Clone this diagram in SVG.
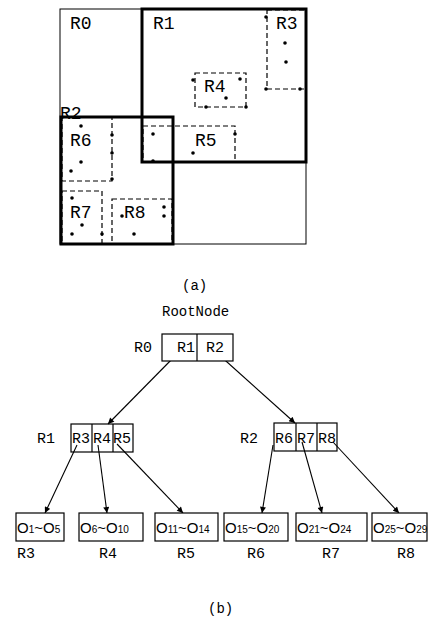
<svg xmlns="http://www.w3.org/2000/svg" width="429" height="626" viewBox="0 0 429 626">
<style>
.bg{fill:#fff}
.thin{fill:none;stroke:#000;stroke-width:1}
.thick{fill:none;stroke:#000;stroke-width:3}
.dash{fill:none;stroke:#000;stroke-width:1.2;stroke-dasharray:5 3}
.dot{fill:#000}
.la{font-family:"Liberation Mono",monospace;font-size:18px;fill:#000}
.lt{font-family:"Liberation Mono",monospace;font-size:15px;fill:#000}
.cap{font-family:"Liberation Mono",monospace;font-size:14px;fill:#000}
.box{fill:#fff;stroke:#000;stroke-width:1.2}
.div{stroke:#000;stroke-width:1.2}
.leaf{font-family:"Liberation Sans",Arial,sans-serif;font-size:15px;fill:#000}
.sub{font-size:10px}
.edge{stroke:#000;stroke-width:1.1;fill:none;marker-end:url(#arr)}
</style>
<defs>
<marker id="arr" viewBox="0 0 10 10" refX="10" refY="5" markerWidth="8" markerHeight="6" markerUnits="userSpaceOnUse" orient="auto">
<path d="M0,0 L10,5 L0,10 z" fill="#000"/>
</marker>
</defs>
<rect class="bg" x="0" y="0" width="429" height="626"/>

<g id="partA">
<g id="R0"><rect class="thin" x="60" y="9" width="246" height="235"/><text class="la" x="70" y="29">R0</text></g>
<g id="R3"><rect class="dash" x="267" y="10" width="39" height="79"/><text class="la" x="276" y="29">R3</text>
<circle class="dot" cx="266" cy="17" r="1.8"/><circle class="dot" cx="285" cy="43" r="1.8"/><circle class="dot" cx="286" cy="62" r="1.8"/><circle class="dot" cx="266" cy="89" r="1.8"/><circle class="dot" cx="300" cy="89" r="1.8"/></g>
<g id="R4"><rect class="dash" x="195" y="73" width="51" height="34"/><text class="la" x="204" y="92">R4</text>
<circle class="dot" cx="193" cy="80" r="1.8"/><circle class="dot" cx="240" cy="79" r="1.8"/><circle class="dot" cx="226" cy="98" r="1.8"/><circle class="dot" cx="206" cy="107" r="1.8"/><circle class="dot" cx="246" cy="107" r="1.8"/></g>
<g id="R5"><rect class="dash" x="143" y="126" width="92" height="36"/><text class="la" x="195" y="146">R5</text>
<circle class="dot" cx="153" cy="134" r="1.8"/><circle class="dot" cx="235" cy="134" r="1.8"/><circle class="dot" cx="193" cy="153" r="1.8"/><circle class="dot" cx="153" cy="161" r="1.8"/></g>
<g id="R6"><rect class="dash" x="62" y="117" width="50" height="64"/><text class="la" x="70" y="146">R6</text>
<circle class="dot" cx="81" cy="126" r="1.8"/><circle class="dot" cx="112" cy="135" r="1.8"/><circle class="dot" cx="112" cy="153" r="1.8"/><circle class="dot" cx="81" cy="162" r="1.8"/><circle class="dot" cx="71" cy="171" r="1.8"/><circle class="dot" cx="112" cy="179" r="1.8"/></g>
<g id="R7"><rect class="dash" x="62" y="191" width="40" height="53"/><text class="la" x="70" y="218">R7</text>
<circle class="dot" cx="72" cy="198" r="1.8"/><circle class="dot" cx="82" cy="225" r="1.8"/><circle class="dot" cx="72" cy="234" r="1.8"/><circle class="dot" cx="102" cy="234" r="1.8"/></g>
<g id="R8"><rect class="dash" x="112" y="199" width="60" height="45"/><text class="la" x="124" y="218">R8</text>
<circle class="dot" cx="122" cy="216" r="1.8"/><circle class="dot" cx="164" cy="207" r="1.8"/><circle class="dot" cx="164" cy="216" r="1.8"/><circle class="dot" cx="134" cy="234" r="1.8"/></g>
<g id="R1"><rect class="thick" x="142" y="9" width="164" height="153"/><text class="la" x="153" y="29">R1</text></g>
<g id="R2"><text class="la" x="60" y="119">R2</text><rect class="thick" x="61" y="117" width="112" height="127"/></g>
<text class="cap" x="182" y="290">(a)</text>
</g>

<g id="connectors">
<line class="edge" x1="177" y1="354" x2="108" y2="424"/>
<line class="edge" x1="217" y1="353" x2="295" y2="423"/>
<line class="edge" x1="77" y1="445" x2="45" y2="513"/>
<line class="edge" x1="98" y1="445" x2="107" y2="513"/>
<line class="edge" x1="117" y1="444" x2="183" y2="513"/>
<line class="edge" x1="273" y1="445" x2="262" y2="513"/>
<line class="edge" x1="302" y1="442" x2="322" y2="513"/>
<line class="edge" x1="333" y1="442" x2="399" y2="513"/>
</g>

<g id="rootnode">
<text class="cap" x="162" y="316">RootNode</text>
<text class="lt" x="134" y="352">R0</text>
<rect class="box" x="162" y="334" width="71" height="27"/>
<line class="div" x1="197" y1="334" x2="197" y2="361"/>
<text class="lt" x="177" y="352">R1</text>
<text class="lt" x="206" y="352">R2</text>
</g>

<g id="nodeR1">
<text class="lt" x="37" y="443">R1</text>
<rect class="box" x="71" y="424" width="62" height="28" style="fill:none"/>
<line class="div" x1="92" y1="424" x2="92" y2="452"/>
<line class="div" x1="113" y1="424" x2="113" y2="452"/>
<text class="lt" x="72" y="443">R3</text>
<text class="lt" x="93" y="443">R4</text>
<text class="lt" x="113" y="443">R5</text>
</g>

<g id="nodeR2">
<text class="lt" x="240" y="443">R2</text>
<rect class="box" x="274" y="423" width="63" height="28" style="fill:none"/>
<line class="div" x1="296" y1="423" x2="296" y2="451"/>
<line class="div" x1="317" y1="423" x2="317" y2="451"/>
<text class="lt" x="275" y="443">R6</text>
<text class="lt" x="297" y="443">R7</text>
<text class="lt" x="318" y="443">R8</text>
</g>

<g id="leafR3"><rect class="box" x="16" y="513" width="48" height="28"/>
<text class="leaf" x="17" y="533">O<tspan class="sub">1</tspan>~O<tspan class="sub">5</tspan></text>
<text class="lt" x="17" y="558">R3</text></g>
<g id="leafR4"><rect class="box" x="79" y="513" width="64" height="28"/>
<text class="leaf" x="80" y="533">O<tspan class="sub">6</tspan>~O<tspan class="sub">10</tspan></text>
<text class="lt" x="99" y="558">R4</text></g>
<g id="leafR5"><rect class="box" x="155" y="513" width="63" height="28"/>
<text class="leaf" x="156" y="533">O<tspan class="sub">11</tspan>~O<tspan class="sub">14</tspan></text>
<text class="lt" x="177" y="558">R5</text></g>
<g id="leafR6"><rect class="box" x="224" y="513" width="64" height="28"/>
<text class="leaf" x="225" y="533">O<tspan class="sub">15</tspan>~O<tspan class="sub">20</tspan></text>
<text class="lt" x="247" y="558">R6</text></g>
<g id="leafR7"><rect class="box" x="296" y="513" width="71" height="28"/>
<text class="leaf" x="297" y="533">O<tspan class="sub">21</tspan>~O<tspan class="sub">24</tspan></text>
<text class="lt" x="322" y="558">R7</text></g>
<g id="leafR8"><rect class="box" x="372" y="513" width="55" height="28"/>
<text class="leaf" x="373" y="533">O<tspan class="sub">25</tspan>~O<tspan class="sub">29</tspan></text>
<text class="lt" x="397" y="558">R8</text></g>

<text class="cap" x="208" y="613">(b)</text>
</svg>
